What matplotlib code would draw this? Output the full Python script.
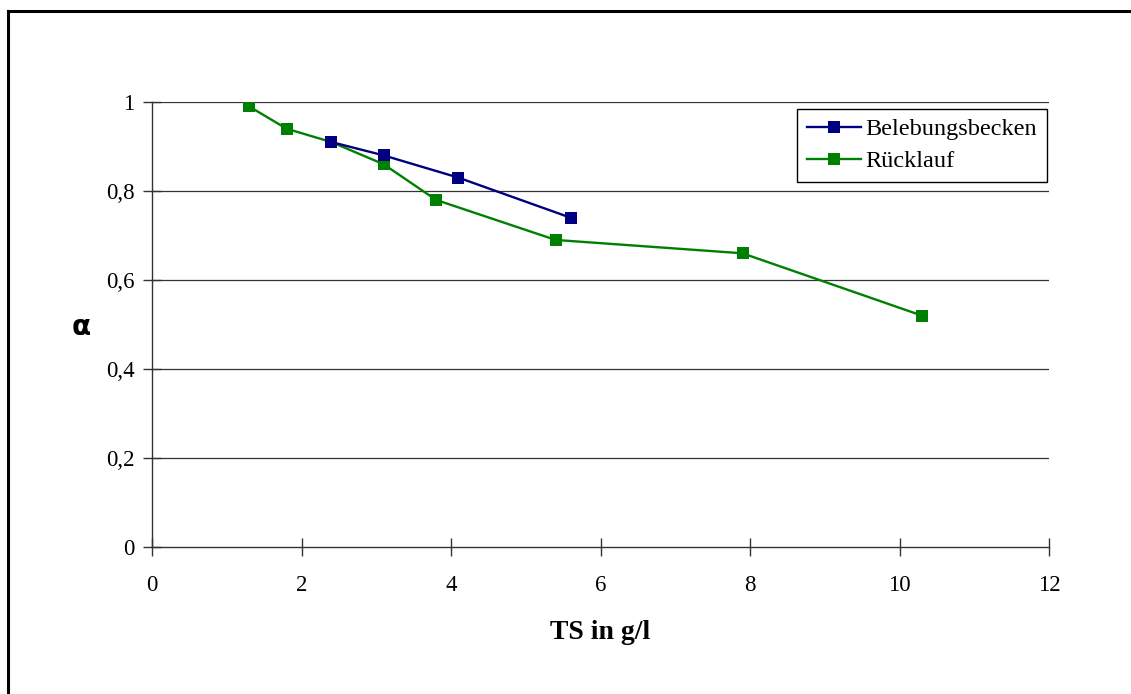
import matplotlib
matplotlib.use("Agg")
import matplotlib.pyplot as plt
from matplotlib.lines import Line2D
from matplotlib.ticker import FuncFormatter

# TS concentration (g/l) and alpha values
ts_belebung = [2.4, 3.1, 4.1, 5.6]
alpha_belebung = [0.91, 0.88, 0.83, 0.74]

ts_ruecklauf = [1.3, 1.8, 2.4, 3.1, 3.8, 5.4, 7.9, 10.3]
alpha_ruecklauf = [0.99, 0.94, 0.91, 0.86, 0.78, 0.69, 0.66, 0.52]

x_ticks = [0, 2, 4, 6, 8, 10, 12]
y_ticks = [0, 0.2, 0.4, 0.6, 0.8, 1.0]

serif = "Liberation Serif"

W, H = 1131, 694
fig = plt.figure(figsize=(W / 100, H / 100), dpi=100)
ax = fig.add_axes([152 / W, 1 - 547 / H, (1049 - 152) / W, (547 - 102) / H])

ax.plot(ts_belebung, alpha_belebung, color="#000080", lw=1.7, marker="s",
        markersize=8.5, markeredgewidth=0, label="Belebungsbecken", zorder=4)
ax.plot(ts_ruecklauf, alpha_ruecklauf, color="#008000", lw=1.7, marker="s",
        markersize=8.5, markeredgewidth=0, label="Rücklauf", zorder=3)

ax.set_xlim(0, 12)
ax.set_ylim(0, 1)
ax.set_xticks(x_ticks)
ax.set_yticks(y_ticks)
ax.xaxis.set_major_formatter(FuncFormatter(lambda v, p: f"{v:g}"))
ax.yaxis.set_major_formatter(FuncFormatter(lambda v, p: f"{v:g}".replace(".", ",")))

for t in y_ticks[1:]:
    ax.axhline(t, color="#333333", lw=0.9, zorder=1)

for s in ("top", "right"):
    ax.spines[s].set_visible(False)
for s in ("left", "bottom"):
    ax.spines[s].set_color("#333333")
    ax.spines[s].set_linewidth(1.0)

ax.tick_params(axis="both", direction="inout", length=13, width=1.0,
               color="#333333", labelsize=16.5)
ax.tick_params(axis="x", pad=14)
ax.tick_params(axis="y", pad=6)
for lbl in ax.get_xticklabels() + ax.get_yticklabels():
    lbl.set_fontfamily(serif)

ax.set_xlabel("TS in g/l", fontfamily=serif, fontsize=20, fontweight="bold",
              labelpad=17)
fig.text(81 / W, 1 - 327 / H, "α", fontfamily="DejaVu Sans", fontsize=20,
         fontweight="bold", ha="center", va="center")

leg = ax.legend(loc="upper right", bbox_to_anchor=(0.9975, 0.985),
                prop={"family": serif, "size": 17.5}, frameon=True,
                fancybox=False, edgecolor="black", framealpha=1,
                borderpad=0.4, labelspacing=0.4, handlelength=2.2,
                handletextpad=0.2, borderaxespad=0.0)
leg.get_frame().set_linewidth(1.0)

# Page frame (left and top edges)
fig.add_artist(Line2D([7.5 / W, 7.5 / W], [0, 1 - 11 / H], transform=fig.transFigure,
                      color="black", lw=2.2))
fig.add_artist(Line2D([7.5 / W, 1], [1 - 11 / H, 1 - 11 / H], transform=fig.transFigure,
                      color="black", lw=2.2))

fig.savefig("out.png", dpi=100, facecolor="white")
